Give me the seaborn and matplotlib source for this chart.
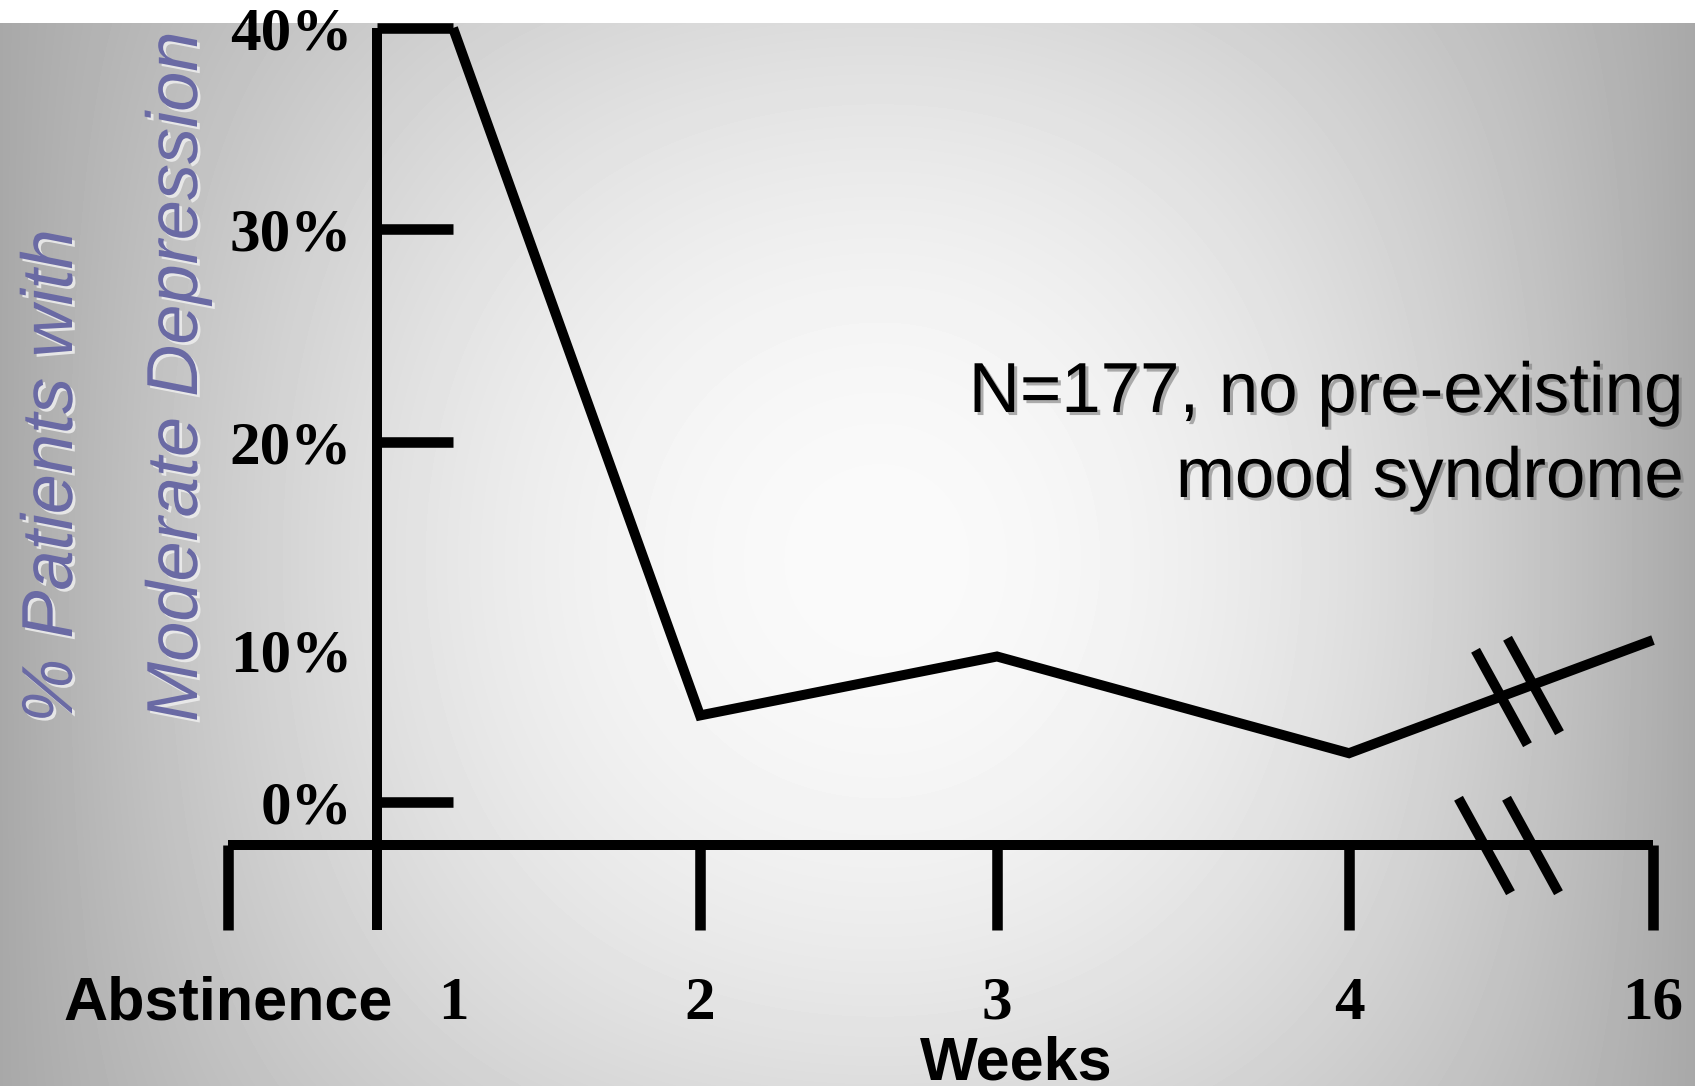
import numpy as np
import matplotlib
matplotlib.use("Agg")
import matplotlib.pyplot as plt
import matplotlib.patheffects as pe
import seaborn as sns

# ---------------- data ----------------
weeks = [1, 2, 3, 4, 16]
pct_moderate_depression = [40.0, 5.7, 9.6, 3.2, 10.5]

y_tick_values = [0, 10, 20, 30, 40]
y_tick_labels = ["0%", "10%", "20%", "30%", "40%"]
x_tick_values = [0, 1, 2, 3, 4, 16]
x_tick_labels = ["Abstinence", "1", "2", "3", "4", "16"]

ylabel_lines = ["% Patients with", "Moderate Depression"]
note_lines = ["N=177, no pre-existing", "mood syndrome"]
xlabel_text = "Weeks"

# ------------- hand-drawn (irregular) axis spacing -------------
x_knots = [-10, 0, 1, 2, 3, 4, 16, 40]
x_spacing = [-2250, 0, 225, 472, 769, 1121, 1425, 2033]
y_knots = [-100, 0, 10, 20, 30, 40, 100]
y_spacing = [-1510, 0, 151, 359, 572, 773, 1979]


def fx(v):
    return np.interp(v, x_knots, x_spacing)


def ix(p):
    return np.interp(p, x_spacing, x_knots)


def fy(v):
    return np.interp(v, y_knots, y_spacing)


def iy(p):
    return np.interp(p, y_spacing, y_knots)


Y_BOTTOM = -8.5      # bottom of the drawing frame
X_AXIS_AT = -2.9     # where the horizontal axis line sits
Y_AXIS_AT = 0.66     # where the vertical axis line sits

sns.set_theme(style="white")
plt.rcParams["font.family"] = ["Liberation Sans", "DejaVu Sans"]
plt.rcParams["text.color"] = "black"
plt.rcParams["xtick.color"] = "black"
plt.rcParams["ytick.color"] = "black"
plt.rcParams["axes.labelcolor"] = "black"

W, H = 1695, 1086
fig = plt.figure(figsize=(W / 100, H / 100), dpi=100)
fig.patch.set_facecolor("white")

# ---------------- background gradient ----------------
top_strip = 23
bg_h = H - top_strip
bg = fig.add_axes([0, 0, 1, bg_h / H])
yy, xx = np.mgrid[0:bg_h, 0:W].astype(float)
cx, cy = 880.0, 537.0
ax_scale = np.where(xx < cx, 880.0, 815.0)
ux = np.clip(((xx - cx) / ax_scale) ** 2, 0, 1.2)
uy = 0.37 * ((yy - cy) / 537.0) ** 2
u = 1 - (1 - ux) * (1 - uy)
g = np.clip(250 - 82 * u, 0, 255) / 255.0
bg.imshow(g, cmap="gray", vmin=0, vmax=1, aspect="auto", interpolation="bilinear")
bg.axis("off")

# ---------------- main axes ----------------
ax = fig.add_axes([228 / W, 1 - 930 / H, (1653 - 228) / W, (930 - 28) / H])
ax.patch.set_alpha(0)

LW = 7.2
sns.lineplot(x=weeks, y=pct_moderate_depression, ax=ax, color="black",
             linewidth=LW, sort=False, solid_joinstyle="miter",
             solid_capstyle="butt", clip_on=False, zorder=4)

ax.set_xscale("function", functions=(fx, ix))
ax.set_yscale("function", functions=(fy, iy))
ax.set_xlim(0, 16)
ax.set_ylim(Y_BOTTOM, 40)

for s in ("top", "right"):
    ax.spines[s].set_visible(False)
ax.spines["left"].set_position(("data", Y_AXIS_AT))
ax.spines["bottom"].set_position(("data", X_AXIS_AT))
for s in ("left", "bottom"):
    ax.spines[s].set_linewidth(LW)
    ax.spines[s].set_color("black")
    ax.spines[s].set_capstyle("butt")

ax.set_xticks(x_tick_values, labels=x_tick_labels)
ax.set_yticks(y_tick_values, labels=y_tick_labels)
ax.minorticks_off()
ax.tick_params(axis="x", direction="out", length=61, width=7.6, pad=33,
               color="black", labelcolor="black", bottom=True)
ax.tick_params(axis="y", direction="in", length=55, width=7.6, pad=17.5,
               color="black", labelcolor="black", left=True)

for lab in ax.get_xticklabels():
    if lab.get_text() == "Abstinence":
        lab.set_fontfamily("Liberation Sans")
        lab.set_fontsize(44)
    else:
        lab.set_fontfamily("Liberation Serif")
        lab.set_fontsize(44)
    lab.set_fontweight("bold")
    lab.set_color("black")
for lab in ax.get_yticklabels():
    lab.set_fontfamily("Liberation Serif")
    lab.set_fontsize(44)
    lab.set_fontweight("bold")
    lab.set_color("black")

# hide tick marks that the original does not draw
ax.xaxis.get_major_ticks()[x_tick_values.index(1)].tick1line.set_visible(False)
ax.yaxis.get_major_ticks()[y_tick_values.index(10)].tick1line.set_visible(False)

# axis-break marks
slash = [(-0.275, 0.5), (0.275, -0.5)]


def along(x0, x1, y0, y1, t):
    px = fx(x0) + t * (fx(x1) - fx(x0))
    py = fy(y0) + t * (fy(y1) - fy(y0))
    return float(ix(px)), float(iy(py))


brk_line = [along(weeks[-2], weeks[-1], pct_moderate_depression[-2],
                  pct_moderate_depression[-1], t) for t in (0.50, 0.605)]
brk_axis = [along(weeks[-2], weeks[-1], X_AXIS_AT, X_AXIS_AT, t) for t in (0.444, 0.602)]
for pts in (brk_line, brk_axis):
    ax.plot([p[0] for p in pts], [p[1] for p in pts], ls="none", marker=slash,
            ms=68, mew=LW, color="black", clip_on=False, zorder=5)

# x label
ax.set_xlabel(xlabel_text, fontsize=44, fontweight="bold",
              fontfamily="Liberation Sans", color="black")
ax.xaxis.label.set_va("baseline")
ax.xaxis.set_label_coords(1016 / W, 1 - 1079 / H, transform=fig.transFigure)
ax.set_ylabel("")

# y label (two lines, rotated)
ylab_color = "#6A6AA4"
ylab_fx = [pe.withSimplePatchShadow(offset=(2, -2), shadow_rgbFace="#ececec", alpha=0.9)]
fig.text(72 / W, 1 - 723 / H, ylabel_lines[0], rotation=90, rotation_mode="anchor",
         ha="left", va="baseline", fontsize=52, style="italic", color=ylab_color,
         family="Liberation Sans", path_effects=ylab_fx)
fig.text(197 / W, 1 - 722 / H, ylabel_lines[1], rotation=90, rotation_mode="anchor",
         ha="left", va="baseline", fontsize=52, style="italic", color=ylab_color,
         family="Liberation Sans", path_effects=ylab_fx)

# note
note_fx = [pe.withSimplePatchShadow(offset=(2.2, -2.2), shadow_rgbFace="#7a7a7a", alpha=0.6)]
for line, yb in zip(note_lines, (412, 497)):
    fig.text(1684 / W, 1 - yb / H, line, ha="right", va="baseline", fontsize=51,
             color="black", family="Liberation Sans", path_effects=note_fx)

fig.savefig("out.png", dpi=100)
